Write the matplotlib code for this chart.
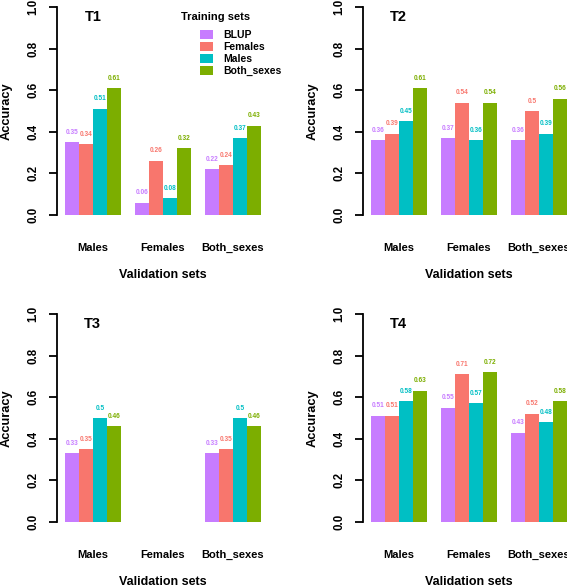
import numpy as np
import matplotlib
matplotlib.use("Agg")
import matplotlib.pyplot as plt
from matplotlib.patches import Patch

plt.rcParams['font.family'] = ['Liberation Sans', 'DejaVu Sans']
plt.rcParams['font.weight'] = 'bold'

validation_sets = ["Males", "Females", "Both_sexes"]
training_sets = ["BLUP", "Females", "Males", "Both_sexes"]
colors = ["#C77CFF", "#F8766D", "#00BFC4", "#7CAE00"]
panel_titles = ["T1", "T2", "T3", "T4"]

# values[panel][training_set][validation_set]
t1_blup = [0.35, 0.06, 0.22]
t1_females = [0.34, 0.26, 0.24]
t1_males = [0.51, 0.08, 0.37]
t1_both = [0.61, 0.32, 0.43]

t2_blup = [0.36, 0.37, 0.36]
t2_females = [0.39, 0.54, 0.50]
t2_males = [0.45, 0.36, 0.39]
t2_both = [0.61, 0.54, 0.56]

t3_blup = [0.33, np.nan, 0.33]
t3_females = [0.35, np.nan, 0.35]
t3_males = [0.50, np.nan, 0.50]
t3_both = [0.46, np.nan, 0.46]

t4_blup = [0.51, 0.55, 0.43]
t4_females = [0.51, 0.71, 0.52]
t4_males = [0.58, 0.57, 0.48]
t4_both = [0.63, 0.72, 0.58]

panels = [
    [t1_blup, t1_females, t1_males, t1_both],
    [t2_blup, t2_females, t2_males, t2_both],
    [t3_blup, t3_females, t3_males, t3_both],
    [t4_blup, t4_females, t4_males, t4_both],
]

W, H = 567, 585
fig = plt.figure(figsize=(W / 100, H / 100), dpi=100)

px_per_unit = 14.0
ax_w_px = px_per_unit * 15.12
# (left px of axis line, top px of y=1.0)
origins = [(57, 7), (363, 7), (57, 314), (363, 314)]
y_px = 208.0  # pixels per 1.0 accuracy

for k, (x0, ytop) in enumerate(origins):
    top_px = ytop - 0.04 * y_px
    bot_px = ytop + 1.04 * y_px
    ax = fig.add_axes([x0 / W, 1 - bot_px / H, ax_w_px / W, (bot_px - top_px) / H])
    ax.set_xlim(0.44, 15.56)
    ax.set_ylim(-0.04, 1.04)
    data = panels[k]
    for g in range(3):
        for s in range(4):
            v = data[s][g]
            if np.isnan(v):
                continue
            xl = 1 + g * 5 + s
            ax.bar(xl + 0.5, v, width=1.0, color=colors[s], linewidth=0)
            ax.text(xl + 0.5, v + 0.048, "{:g}".format(v), color=colors[s],
                    fontsize=4.7, fontweight='bold', ha='center', va='center')
    for sp in ['top', 'right', 'bottom']:
        ax.spines[sp].set_visible(False)
    ax.spines['left'].set_bounds(0, 1)
    ax.spines['left'].set_linewidth(1.3)
    ax.set_yticks([0, 0.2, 0.4, 0.6, 0.8, 1.0])
    ax.set_yticklabels(["0.0", "0.2", "0.4", "0.6", "0.8", "1.0"], rotation=90,
                       va='center', fontsize=8.3, fontweight='bold')
    ax.tick_params(axis='y', length=6, width=1.3, pad=6.5)
    ax.set_xticks([3, 8, 13])
    ax.set_xticklabels(validation_sets, fontsize=8, fontweight='bold')
    ax.tick_params(axis='x', length=0, pad=14)
    ax.text(8.0, -0.29, "Validation sets", fontsize=9, fontweight='bold',
            ha='center', va='center')
    ax.text(-50 / ax_w_px, 0.5, "Accuracy", transform=ax.transAxes, rotation=90,
            fontsize=9.3, fontweight='bold', ha='center', va='center')
    ax.text(3, 0.95, panel_titles[k], fontsize=10.5, fontweight='bold',
            ha='center', va='center')
    ax.patch.set_visible(False)
    if k == 0:
        ax.text(11.8, 0.95, "Training sets", fontsize=8, fontweight='bold',
                ha='center', va='center')
        handles = [Patch(facecolor=c, edgecolor='none') for c in colors]
        leg = ax.legend(handles, training_sets, loc='upper left',
                        bbox_to_anchor=((200 - 57) / ax_w_px, 0.862),
                        frameon=False, fontsize=7.5, borderpad=0,
                        borderaxespad=0, handlelength=1.25, handleheight=0.95,
                        handletextpad=1.0, labelspacing=0.2)
        for t in leg.get_texts():
            t.set_fontweight('bold')

fig.savefig("out.png", dpi=100)
